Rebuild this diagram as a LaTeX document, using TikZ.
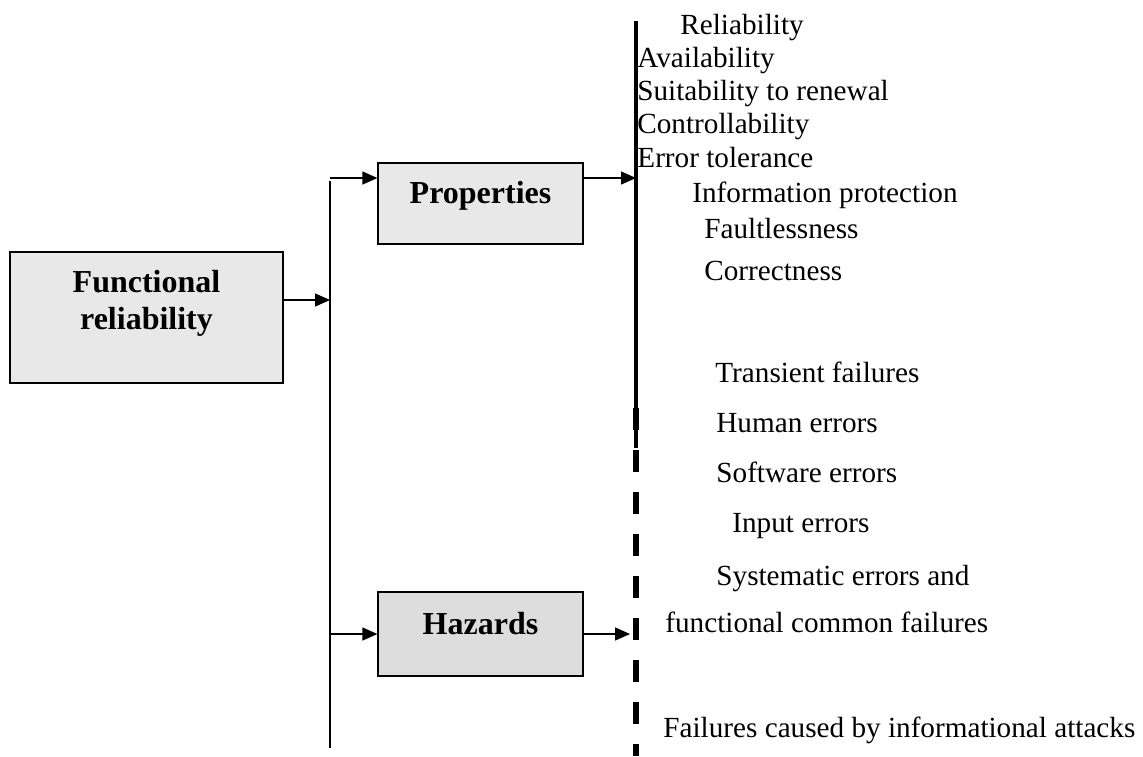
\documentclass[tikz,border=0pt]{standalone}
\usepackage{fontspec}
\setmainfont{Liberation Serif}
\usetikzlibrary{arrows.meta}
\definecolor{boxgrey}{HTML}{E8E8E8}
\definecolor{hazgrey}{HTML}{DDDDDD}

\begin{document}
\begin{tikzpicture}[x=0.5pt, y=-0.5pt,
    block/.style={draw, line width=0.6pt, fill=boxgrey, inner sep=0pt, align=center,
      font=\fontsize{16}{18.5}\selectfont\bfseries, text height=12pt, text depth=12pt},
    item/.style={anchor=base west, inner sep=0pt, font=\fontsize{14.6}{17}\selectfont},
    arr/.style={-{Triangle[length=7.5pt, width=6.5pt]}, line width=0.6pt}]
  \useasboundingbox (0,0) rectangle (1143,756);
  \node[block, minimum width=136.5pt, minimum height=65.5pt, text height=30.5pt, text depth=19pt] (fr) at (146.5,317.5) {Functional\\reliability};
  \node[block, minimum width=102.5pt, minimum height=40.5pt] (props) at (480.5,203.5) {Properties};
  \node[block, fill=hazgrey, minimum width=102.5pt, minimum height=42pt] (haz) at (480.5,634) {Hazards};
  \coordinate (trunktop) at (330,181);
  \coordinate (branchtop) at (330,178);
  \coordinate (trunkmid) at (330,300);
  \coordinate (trunkbot) at (330,748);
  \coordinate (divtop) at (636,21);
  \coordinate (divsolid) at (636,448);
  \coordinate (divdash) at (636,408);
  \coordinate (divbot) at (636,756);
  \draw[line width=1pt] (trunktop) -- (trunkbot);
  \draw[line width=2pt] (divtop) -- (divsolid);
  \draw[line width=2.6pt, dash pattern=on 11pt off 10pt] (divdash) -- (divbot);
  \draw[arr] (fr.east |- trunkmid) -- (trunkmid);
  \draw[arr] (branchtop) -- (branchtop -| props.west);
  \draw[arr] (trunkbot |- haz.west) -- (haz.west);
  \draw[arr] (props.east |- branchtop) -- (branchtop -| divtop);
  \draw[arr, shorten >=3pt] (haz.east) -- (haz.east -| divtop);
  \foreach \name/\xx/\yy/\txt in {
      rel/680/34/Reliability, avail/637/67/Availability, suit/637/100/Suitability to renewal,
      ctrl/637/133/Controllability, errtol/637/167/Error tolerance,
      infoprot/692/202/Information protection, faultless/704/238/Faultlessness,
      correct/704/280/Correctness, transient/715/382/Transient failures,
      human/716/432/Human errors, software/716/482/Software errors,
      input/732/532/Input errors, system/716/585/Systematic errors and,
      funccommon/665/632/functional common failures,
      attacks/663/737/Failures caused by informational attacks}
    \node[item] (\name) at (\xx,\yy) {\txt};
\end{tikzpicture}
\end{document}
